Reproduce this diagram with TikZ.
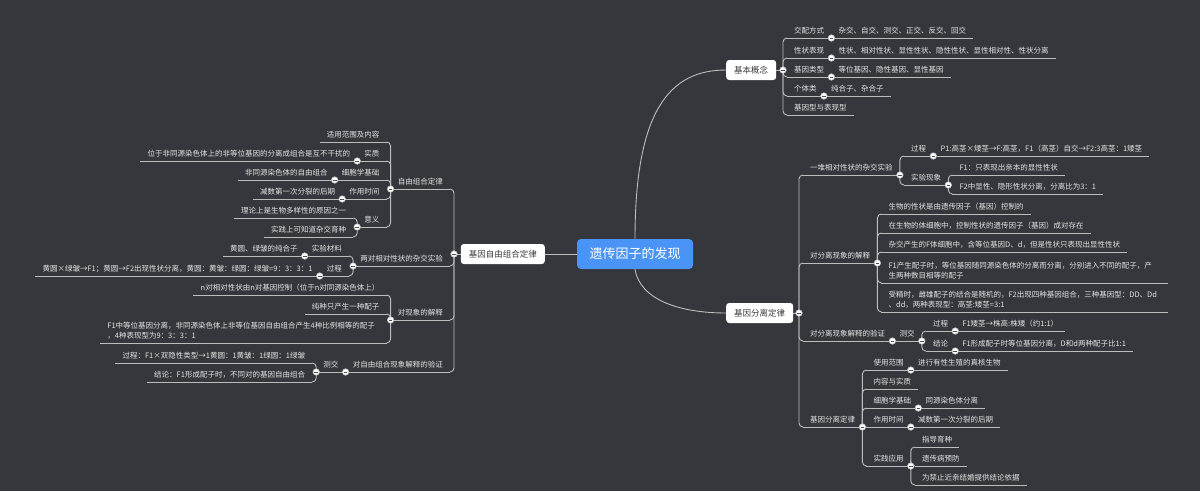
\documentclass[tikz,border=0pt]{standalone}
\usepackage{fontspec}
\setmainfont{Noto Sans CJK SC}
\usepackage{xcolor}
\usepackage{tikz}
\usetikzlibrary{positioning,calc}
\definecolor{bgc}{HTML}{36373C}
\definecolor{linec}{HTML}{BDBDBD}
\definecolor{txtc}{HTML}{E4E4E4}
\definecolor{rootc}{HTML}{4A94F7}
\definecolor{boxtxt}{HTML}{3A3A3A}
\definecolor{mkc}{HTML}{505050}

\begin{document}
\begin{tikzpicture}[x=1pt,y=-1pt,
    link/.style={draw=linec, line width=0.9pt, rounded corners=4pt},
    topic/.style={font=\fontsize{7.5}{10}\selectfont, text=txtc, inner xsep=7pt, inner ysep=3pt,
        text height=6.5pt, text depth=1pt,
        append after command={(\tikzlastnode.south west) edge[link] (\tikzlastnode.south east)}},
    rt/.style={topic, anchor=south west, align=left},
    lt/.style={topic, anchor=south east, align=right},
    rc/.style={rt, xshift=4pt},
    lc/.style={lt, xshift=-4pt},
    two/.style={text width=272pt, text depth=11pt},
    mainbox/.style={fill=white, text=boxtxt, rounded corners=3pt, font=\fontsize{8.5}{10}\selectfont,
        inner xsep=8pt, minimum height=20pt},
    root/.style={fill=rootc, text=white, rounded corners=4pt, font=\fontsize{13}{15}\selectfont,
        minimum width=116pt, minimum height=30pt},
    mk/.style={circle, fill=white, draw=linec, line width=0.6pt, minimum size=6.5pt, inner sep=0pt,
        path picture={\draw[mkc, line width=0.7pt] ([xshift=-1.8pt]path picture bounding box.center)
            -- ([xshift=1.8pt]path picture bounding box.center);}}]
    % Background
    \fill[bgc] (0,0) rectangle (1200,491);
    \useasboundingbox (0,0) rectangle (1200,491);

    % Level 0: root and the three main branches
    \node[root] (root) at (635,254) {遗传因子的发现};
    \node[mainbox, anchor=west] (jbgn) at (726,70) {基本概念};
    \node[mainbox, anchor=west] (fl) at (726,313) {基因分离定律};
    \node[mainbox, anchor=east] (zh) at (545,254) {基因自由组合定律};
    \coordinate (m-jbgn) at (783,70);
    \coordinate (m-fl) at (799,313);
    \coordinate (m-zh) at (454,254);
    \draw[link] (root.north) .. controls (635,110) and (670,70) .. (jbgn.west);
    \draw[link] (root.south) .. controls (640,300) and (680,313) .. (fl.west);
    \draw[link] (root.west) -- (zh.east);
    \draw[link] (jbgn.east) -- (m-jbgn);
    \draw[link] (fl.east) -- (m-fl);
    \draw[link] (zh.west) -- (m-zh);

    % Level 1: 基本概念
    \node[rc] (jpfs) at (m-jbgn |- 0,38) {交配方式};
    \node[rc] (xzbx) at (m-jbgn |- 0,58) {性状表现};
    \node[rc] (jylx) at (m-jbgn |- 0,77) {基因类型};
    \node[rc] (gtl) at (m-jbgn |- 0,96) {个体类};
    \node[rc] (jyxy) at (m-jbgn |- 0,115) {基因型与表现型};
    \foreach \kid in {jpfs,xzbx,jylx,gtl,jyxy}
        \draw[link] (m-jbgn) |- (\kid.south west);
    \coordinate (m-jpfs) at (jpfs.south east);
    \coordinate (m-xzbx) at (xzbx.south east);
    \coordinate (m-jylx) at (jylx.south east);
    \coordinate (m-gtl) at (gtl.south east);
    \node[rt] (jpfs-a) at (m-jpfs) {杂交、自交、测交、正交、反交、回交};
    \node[rt] (xzbx-a) at (m-xzbx) {性状、相对性状、显性性状、隐性性状、显性相对性、性状分离};
    \node[rt] (jylx-a) at (m-jylx) {等位基因、隐性基因、显性基因};
    \node[rt] (gtl-a) at (m-gtl) {纯合子、杂合子};

    % Level 1: 基因分离定律
    \node[rc] (ydxz) at (m-fl |- 0,175) {一堆相对性状的杂交实验};
    \node[rc] (jsxx) at (m-fl |- 0,263) {对分离现象的解释};
    \node[rc] (yzfl) at (m-fl |- 0,341) {对分离现象解释的验证};
    \node[rc] (fldl) at (m-fl |- 0,427) {基因分离定律};
    \foreach \kid in {ydxz,jsxx,yzfl,fldl}
        \draw[link] (m-fl) |- (\kid.south west);

    % 一堆相对性状的杂交实验
    \coordinate (m-ydxz) at (ydxz.south east);
    \node[rc] (gc1) at (m-ydxz |- 0,156) {过程};
    \node[rc] (syxx) at (m-ydxz |- 0,185) {实验现象};
    \foreach \kid in {gc1,syxx}
        \draw[link] (m-ydxz) |- (\kid.south west);
    \coordinate (m-gc1) at (gc1.south east);
    \node[rt] (gc1-a) at (m-gc1) {P1:高茎×矮茎→F:高茎，F1（高茎）自交→F2:3高茎：1矮茎};
    \coordinate (m-syxx) at (syxx.south east);
    \node[rc] (syxx-a) at (m-syxx |- 0,175) {F1：只表现出亲本的显性性状};
    \node[rc] (syxx-b) at (m-syxx |- 0,194) {F2中显性、隐形性状分离，分离比为3：1};
    \foreach \kid in {syxx-a,syxx-b}
        \draw[link] (m-syxx) |- (\kid.south west);

    % 对分离现象的解释
    \coordinate (m-jsxx) at (jsxx.south east);
    \node[rc] (jsxx-a) at (m-jsxx |- 0,214) {生物的性状是由遗传因子（基因）控制的};
    \node[rc] (jsxx-b) at (m-jsxx |- 0,233) {在生物的体细胞中，控制性状的遗传因子（基因）成对存在};
    \node[rc] (jsxx-c) at (m-jsxx |- 0,252) {杂交产生的F体细胞中，含等位基因D、d，但是性状只表现出显性性状};
    \node[rc, two] (jsxx-d) at (m-jsxx |- 0,283) {F1产生配子时，等位基因随同源染色体的分离而分离，分别进入不同的配子，产\\生两种数目相等的配子};
    \node[rc, two] (jsxx-e) at (m-jsxx |- 0,312) {受精时，雌雄配子的结合是随机的，F2出现四种基因组合，三种基因型：DD、Dd\\、dd，两种表现型：高茎:矮茎=3:1};
    \foreach \kid in {jsxx-a,jsxx-b,jsxx-c,jsxx-d,jsxx-e}
        \draw[link] (m-jsxx) |- (\kid.south west);

    % 对分离现象解释的验证
    \coordinate (m-yzfl) at (yzfl.south east);
    \node[rt] (cj) at (m-yzfl) {测交};
    \coordinate (m-cj) at (cj.south east);
    \node[rc] (gc2) at (m-cj |- 0,331) {过程};
    \node[rc] (jl) at (m-cj |- 0,351) {结论};
    \foreach \kid in {gc2,jl}
        \draw[link] (m-cj) |- (\kid.south west);
    \coordinate (m-gc2) at (gc2.south east);
    \coordinate (m-jl) at (jl.south east);
    \node[rt] (gc2-a) at (m-gc2) {F1矮茎→株高:株矮（约1:1）};
    \node[rt] (jl-a) at (m-jl) {F1形成配子时等位基因分离，D和d两种配子比1:1};

    % 基因分离定律
    \coordinate (m-fldl) at (fldl.south east);
    \node[rc] (syfw) at (m-fldl |- 0,370) {使用范围};
    \node[rc] (nrsz) at (m-fldl |- 0,389) {内容与实质};
    \node[rc] (xbjc) at (m-fldl |- 0,408) {细胞学基础};
    \node[rc] (zysj) at (m-fldl |- 0,427) {作用时间};
    \node[rc] (sjyy) at (m-fldl |- 0,466) {实践应用};
    \foreach \kid in {syfw,nrsz,xbjc,zysj,sjyy}
        \draw[link] (m-fldl) |- (\kid.south west);
    \coordinate (m-syfw) at (syfw.south east);
    \coordinate (m-xbjc) at (xbjc.south east);
    \coordinate (m-zysj) at (zysj.south east);
    \coordinate (m-sjyy) at (sjyy.south east);
    \node[rt] (syfw-a) at (m-syfw) {进行有性生殖的真核生物};
    \node[rt] (xbjc-a) at (m-xbjc) {同源染色体分离};
    \node[rt] (zysj-a) at (m-zysj) {减数第一次分裂的后期};
    \node[rc] (sjyy-a) at (m-sjyy |- 0,447) {指导育种};
    \node[rc] (sjyy-b) at (m-sjyy |- 0,466) {遗传病预防};
    \node[rc] (sjyy-c) at (m-sjyy |- 0,485) {为禁止近亲结婚提供结论依据};
    \foreach \kid in {sjyy-a,sjyy-b,sjyy-c}
        \draw[link] (m-sjyy) |- (\kid.south west);

    % Level 1: 基因自由组合定律
    \node[lc] (zhdl) at (m-zh |- 0,189) {自由组合定律};
    \node[lc] (ldxz) at (m-zh |- 0,266) {两对相对性状的杂交实验};
    \node[lc] (dxjs) at (m-zh |- 0,320) {对现象的解释};
    \node[lc] (yzzh) at (m-zh |- 0,372) {对自由组合现象解释的验证};
    \foreach \kid in {zhdl,ldxz,dxjs,yzzh}
        \draw[link] (m-zh) |- (\kid.south east);

    % 自由组合定律
    \coordinate (m-zhdl) at (zhdl.south west);
    \node[lc] (syfw2) at (m-zhdl |- 0,142) {适用范围及内容};
    \node[lc] (sz) at (m-zhdl |- 0,161) {实质};
    \node[lc] (xbjc2) at (m-zhdl |- 0,180) {细胞学基础};
    \node[lc] (zysj2) at (m-zhdl |- 0,199) {作用时间};
    \node[lc] (yy) at (m-zhdl |- 0,227) {意义};
    \foreach \kid in {syfw2,sz,xbjc2,zysj2,yy}
        \draw[link] (m-zhdl) |- (\kid.south east);
    \coordinate (m-sz) at (sz.south west);
    \coordinate (m-xbjc2) at (xbjc2.south west);
    \coordinate (m-zysj2) at (zysj2.south west);
    \coordinate (m-yy) at (yy.south west);
    \node[lt] (sz-a) at (m-sz) {位于非同源染色体上的非等位基因的分离成组合是互不干扰的};
    \node[lt] (xbjc2-a) at (m-xbjc2) {非同源染色体的自由组合};
    \node[lt] (zysj2-a) at (m-zysj2) {减数第一次分裂的后期};
    \node[lc] (yy-a) at (m-yy |- 0,218) {理论上是生物多样性的原因之一};
    \node[lc] (yy-b) at (m-yy |- 0,237) {实践上可知道杂交育种};
    \foreach \kid in {yy-a,yy-b}
        \draw[link] (m-yy) |- (\kid.south east);

    % 两对相对性状的杂交实验
    \coordinate (m-ldxz) at (ldxz.south west);
    \node[lc] (sycl) at (m-ldxz |- 0,256) {实验材料};
    \node[lc] (gc3) at (m-ldxz |- 0,276) {过程};
    \foreach \kid in {sycl,gc3}
        \draw[link] (m-ldxz) |- (\kid.south east);
    \coordinate (m-sycl) at (sycl.south west);
    \coordinate (m-gc3) at (gc3.south west);
    \node[lt] (sycl-a) at (m-sycl) {黄圆、绿皱的纯合子};
    \node[lt] (gc3-a) at (m-gc3) {黄圆×绿皱→F1；黄圆→F2出现性状分离，黄圆：黄皱：绿圆：绿皱=9：3：3：1};

    % 对现象的解释
    \coordinate (m-dxjs) at (dxjs.south west);
    \node[lc] (dxjs-a) at (m-dxjs |- 0,295) {n对相对性状由n对基因控制（位于n对同源染色体上）};
    \node[lc] (dxjs-b) at (m-dxjs |- 0,314) {纯种只产生一种配子};
    \node[lc, two, align=left] (dxjs-c) at (m-dxjs |- 0,343) {F1中等位基因分离，非同源染色体上非等位基因自由组合产生4种比例相等的配子\\，4种表现型为9：3：3：1};
    \foreach \kid in {dxjs-a,dxjs-b,dxjs-c}
        \draw[link] (m-dxjs) |- (\kid.south east);

    % 对自由组合现象解释的验证
    \coordinate (m-yzzh) at (yzzh.south west);
    \node[lt] (cj2) at (m-yzzh) {测交};
    \coordinate (m-cj2) at (cj2.south west);
    \node[lc] (cj2-a) at (m-cj2 |- 0,363) {过程：F1×双隐性类型→1黄圆：1黄皱：1绿圆：1绿皱};
    \node[lc] (cj2-b) at (m-cj2 |- 0,382) {结论：F1形成配子时，不同对的基因自由组合};
    \foreach \kid in {cj2-a,cj2-b}
        \draw[link] (m-cj2) |- (\kid.south east);

    % Collapse markers
    \foreach \mm in {m-jbgn,m-fl,m-zh,m-jpfs,m-xzbx,m-jylx,m-gtl,m-ydxz,m-gc1,m-syxx,m-jsxx,
        m-yzfl,m-cj,m-gc2,m-jl,m-fldl,m-syfw,m-xbjc,m-zysj,m-sjyy,m-zhdl,m-sz,m-xbjc2,
        m-zysj2,m-yy,m-ldxz,m-sycl,m-gc3,m-dxjs,m-yzzh,m-cj2}
        \node[mk] (\mm-o) at (\mm) {};
\end{tikzpicture}
\end{document}
